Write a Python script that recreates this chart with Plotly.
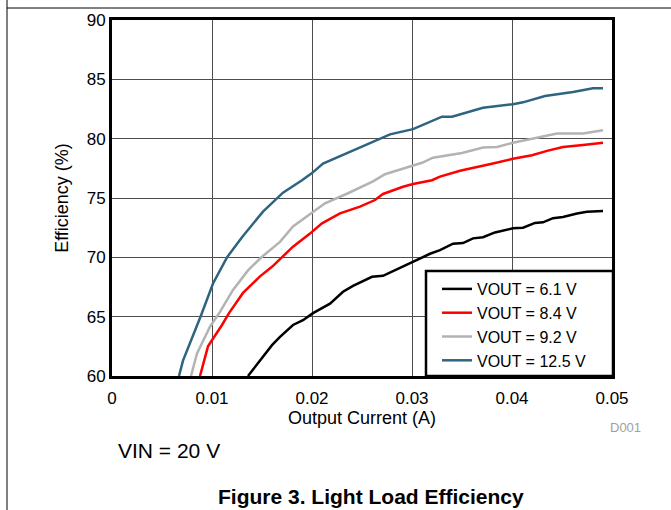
import plotly.graph_objects as go

# ---- data ----
x_61 = [0.0136, 0.0148, 0.0160, 0.0168, 0.0181, 0.0191, 0.0201, 0.0218, 0.0231, 0.0241,
        0.0260, 0.0271, 0.0288, 0.0301, 0.0318, 0.0328, 0.0341, 0.0351, 0.0361, 0.0371,
        0.0383, 0.0401, 0.0411, 0.0423, 0.0431, 0.0441, 0.0451, 0.0465, 0.0475, 0.0491]
y_61 = [60.0, 61.35, 62.6, 63.3, 64.3, 64.7, 65.3, 66.1, 67.1, 67.6,
        68.36, 68.44, 69.1, 69.6, 70.3, 70.6, 71.15, 71.2, 71.6, 71.7,
        72.1, 72.45, 72.5, 72.9, 72.95, 73.3, 73.4, 73.7, 73.85, 73.9]

x_84 = [0.0088, 0.0096, 0.0110, 0.0117, 0.0131, 0.0148, 0.0160, 0.0170, 0.0181, 0.0198,
        0.0210, 0.0228, 0.0248, 0.0263, 0.0271, 0.0291, 0.0301, 0.0320, 0.0328, 0.0348,
        0.0365, 0.0381, 0.0401, 0.0420, 0.0435, 0.0451, 0.0471, 0.0491]
y_84 = [60.0, 62.5, 64.3, 65.3, 67.0, 68.4, 69.2, 70.05, 70.9, 72.0,
        72.87, 73.7, 74.27, 74.83, 75.34, 75.95, 76.18, 76.5, 76.8, 77.3,
        77.58, 77.9, 78.3, 78.6, 78.97, 79.3, 79.47, 79.66]

x_92 = [0.0079, 0.0085, 0.0098, 0.0108, 0.0121, 0.0136, 0.0150, 0.0168, 0.0181, 0.0201,
        0.0213, 0.0236, 0.0251, 0.0261, 0.0273, 0.0301, 0.0310, 0.0321, 0.0335, 0.0350,
        0.0371, 0.0385, 0.0401, 0.0421, 0.0445, 0.0471, 0.0491]
y_92 = [60.0, 61.9, 64.15, 65.4, 67.25, 68.9, 70.05, 71.3, 72.6, 73.85,
        74.55, 75.4, 76.04, 76.4, 77.0, 77.7, 77.97, 78.4, 78.6, 78.8,
        79.26, 79.3, 79.66, 80.0, 80.44, 80.44, 80.7]

x_125 = [0.0067, 0.0071, 0.0089, 0.0101, 0.0115, 0.0130, 0.0151, 0.0165, 0.0171, 0.0190,
         0.0200, 0.0211, 0.0238, 0.0248, 0.0278, 0.0301, 0.0330, 0.0340, 0.0371, 0.0401,
         0.0411, 0.0433, 0.0451, 0.0461, 0.0481, 0.0491]
y_125 = [60.0, 61.3, 65.1, 67.8, 70.0, 71.7, 73.85, 75.0, 75.45, 76.5,
         77.1, 77.9, 78.9, 79.3, 80.36, 80.8, 81.85, 81.85, 82.6, 82.9,
         83.06, 83.6, 83.8, 83.93, 84.24, 84.24]

series_names = ["VOUT = 6.1 V", "VOUT = 8.4 V", "VOUT = 9.2 V", "VOUT = 12.5 V"]
x_ticks = [0, 0.01, 0.02, 0.03, 0.04, 0.05]
x_tick_labels = ["0", "0.01", "0.02", "0.03", "0.04", "0.05"]
y_ticks = [60, 65, 70, 75, 80, 85, 90]

FONT = "Liberation Sans, Arial, sans-serif"
colors = ["#000000", "#ff0000", "#b3b3b3", "#2e6480"]

fig = go.Figure()
for xs, ys, name, c in zip([x_61, x_84, x_92, x_125], [y_61, y_84, y_92, y_125], series_names, colors):
    fig.add_trace(go.Scatter(x=xs, y=ys, mode="lines", name=name,
                             line=dict(color=c, width=2.5)))

W, H = 671, 510
L, R, T, B = 112, 59, 20, 134
pw, ph = W - L - R, H - T - B

def px(xpix):
    return (xpix - L) / pw

def py(ypix):
    return (H - B - ypix) / ph

fig.update_layout(
    width=W, height=H,
    margin=dict(l=L, r=R, t=T, b=B),
    paper_bgcolor="white", plot_bgcolor="white",
    font=dict(family=FONT, color="black", size=17),
    showlegend=True,
    legend=dict(x=px(437), y=py(272), xanchor="left", yanchor="top",
                bgcolor="rgba(0,0,0,0)", borderwidth=0,
                font=dict(family=FONT, size=16, color="black")),
    xaxis=dict(range=[0, 0.05], tickvals=x_ticks, ticktext=x_tick_labels,
               showgrid=True, gridcolor="#4d4d4d", gridwidth=1,
               showline=True, linecolor="black", linewidth=3, mirror=True,
               zeroline=False, ticks="", tickfont=dict(size=17), ticklabelstandoff=5,
               title=dict(text="Output Current (A)", font=dict(size=18), standoff=4)),
    yaxis=dict(range=[60, 90], tickvals=y_ticks,
               showgrid=True, gridcolor="#4d4d4d", gridwidth=1,
               showline=True, linecolor="black", linewidth=3, mirror=True,
               zeroline=False, ticks="", tickfont=dict(size=17),
               title=dict(text="Efficiency (%)", font=dict(size=18), standoff=14)),
)

# legend box
fig.add_shape(type="rect", xref="paper", yref="paper",
              x0=px(426), x1=px(613), y0=py(376), y1=py(271),
              fillcolor="white", line=dict(color="black", width=2.5), layer="above")
# page frame lines
fig.add_shape(type="line", xref="paper", yref="paper",
              x0=px(7), x1=px(7), y0=py(0), y1=py(510),
              line=dict(color="black", width=1))
fig.add_shape(type="line", xref="paper", yref="paper",
              x0=px(7), x1=px(671), y0=py(8), y1=py(8),
              line=dict(color="black", width=1))

fig.add_annotation(text="D001", xref="paper", yref="paper", x=px(625), y=py(428),
                   xanchor="center", yanchor="middle",
                   showarrow=False, font=dict(size=13, color="#a0a0a0"))
fig.add_annotation(text="VIN = 20 V", xref="paper", yref="paper", x=px(116), y=py(450),
                   xanchor="left", yanchor="middle", showarrow=False,
                   font=dict(size=21, color="black"))
fig.add_annotation(text="<b>Figure 3. Light Load Efficiency</b>", xref="paper", yref="paper",
                   x=px(371), y=py(496), xanchor="center", yanchor="middle",
                   showarrow=False, font=dict(size=21, color="black"))

fig.write_html("out.html")
